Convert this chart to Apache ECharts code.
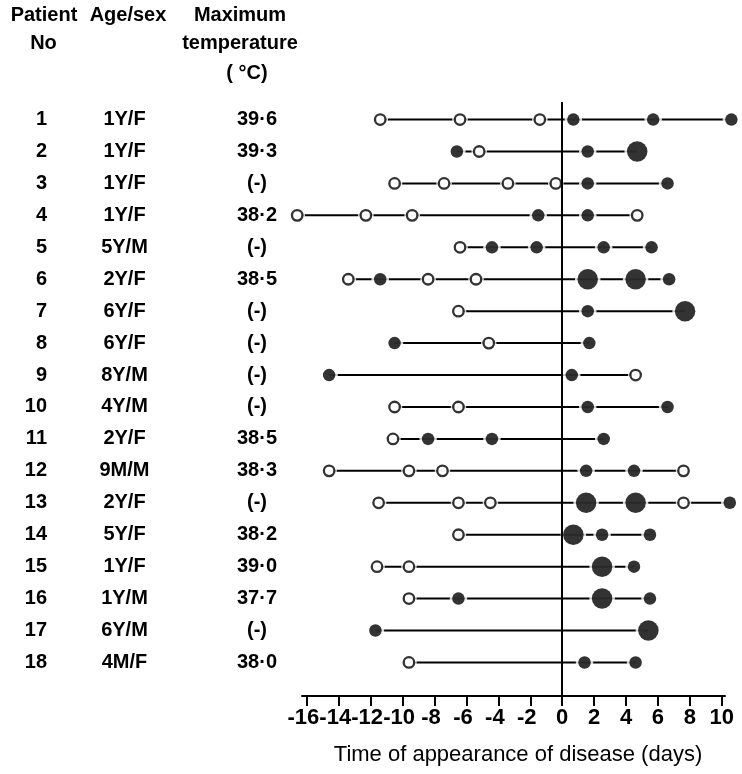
<!DOCTYPE html>
<html>
<head>
<meta charset="utf-8">
<script src="https://cdn.jsdelivr.net/npm/echarts@6/dist/echarts.min.js"></script>
<style>html,body{margin:0;padding:0;background:#fff;}#c{width:742px;height:774px;}</style>
</head>
<body>
<div id="c"></div>
<script>
// ---- data ----
const patientNo = ['1','2','3','4','5','6','7','8','9','10','11','12','13','14','15','16','17','18'];
const ageSex = ['1Y/F','1Y/F','1Y/F','1Y/F','5Y/M','2Y/F','6Y/F','6Y/F','8Y/M','4Y/M','2Y/F','9M/M','2Y/F','5Y/F','1Y/F','1Y/M','6Y/M','4M/F'];
const maxTemp = ['39·6','39·3','(-)','38·2','(-)','38·5','(-)','(-)','(-)','(-)','38·5','38·3','(-)','38·2','39·0','37·7','(-)','38·0'];
// days of appearance per patient (row order)
const openDays = [
  [-11.4,-6.4,-1.4], [-5.2], [-10.5,-7.4,-3.4,-0.4], [-16.6,-12.3,-9.4,4.7], [-6.4],
  [-13.4,-8.4,-5.4], [-6.5], [-4.6], [4.6], [-10.5,-6.5],
  [-10.6], [-14.6,-9.6,-7.5,7.6], [-11.5,-6.5,-4.5,7.6], [-6.5], [-11.6,-9.6],
  [-9.6], [], [-9.6]
];
const filledDays = [
  [0.7,5.7,10.6], [-6.6,1.6], [1.6,6.6], [-1.5,1.6], [-4.4,-1.6,2.6,5.6],
  [-11.4,6.7], [1.6], [-10.5,1.7], [-14.6,0.6], [1.6,6.6],
  [-8.4,-4.4,2.6], [1.5,4.5], [10.5], [2.5,5.5], [4.5],
  [-6.5,5.5], [-11.7], [1.4,4.6]
];
const largeDays = [
  [], [4.7], [], [], [],
  [1.6,4.6], [7.7], [], [], [],
  [], [], [1.5,4.6], [0.7], [2.5],
  [2.5], [5.4], []
];
const xTickValues = [-16,-14,-12,-10,-8,-6,-4,-2,0,2,4,6,8,10];
const xAxisTitle = 'Time of appearance of disease (days)';

// ---- build ----
const FONT = "'Liberation Sans', Arial, Helvetica, sans-serif";
const rowValues = patientNo.map((_, i) => i + 1);
function pts(list) {
  const out = [];
  list.forEach((arr, i) => arr.forEach(v => out.push([v, i + 1])));
  return out;
}
const openPts = pts(openDays), filledPts = pts(filledDays), largePts = pts(largeDays);

const SZ_OPEN = 10.5, SZ_FILLED = 12.5, SZ_LARGE = 20.5, HALO = 5;

const rowLines = rowValues.map((r, i) => {
  const all = openDays[i].concat(filledDays[i], largeDays[i]);
  return {
    type: 'line', data: [[Math.min(...all), r], [Math.max(...all), r]],
    symbol: 'none', clip: false, silent: true, z: 1,
    lineStyle: { color: '#000', width: 2 }
  };
});

function halo(data, size) {
  return { type: 'scatter', data, symbol: 'circle', symbolSize: size + HALO, clip: false, silent: true, z: 2,
    itemStyle: { color: '#fff' } };
}

const cols = [patientNo, ageSex, maxTemp];
const offsets = [255, 177.5, 45];
const aligns = ['right', 'center', 'center'];

const chart = echarts.init(document.getElementById('c'), null, { renderer: 'canvas' });
chart.setOption({
  animation: false,
  backgroundColor: '#fff',
  grid: { left: 302, right: 17, top: 102, bottom: 78, containLabel: false },
  xAxis: {
    type: 'value', min: -16.3, max: 10.2,
    axisLine: { onZero: false, lineStyle: { color: '#000', width: 2 } },
    axisTick: { customValues: xTickValues, length: 10, lineStyle: { color: '#000', width: 2 } },
    splitLine: { show: false },
    axisLabel: {
      customValues: xTickValues, margin: 11, color: '#000',
      fontSize: 22, fontWeight: 'bold', fontFamily: FONT,
      formatter: v => v < 0 ? '{n|' + v + '}' : '{p|' + v + '}',
      rich: {
        n: { fontSize: 22, fontWeight: 'bold', fontFamily: FONT, color: '#000', padding: [0, 7, 0, 0] },
        p: { fontSize: 22, fontWeight: 'bold', fontFamily: FONT, color: '#000' }
      }
    },
    name: xAxisTitle, nameLocation: 'middle', nameGap: 48,
    nameTextStyle: { fontSize: 22, fontFamily: FONT, color: '#000', padding: [0, 0, 0, 9] }
  },
  yAxis: [0, 1, 2].map(k => ({
    type: 'value', min: 0.45, max: 19.05, inverse: true, position: 'left', offset: offsets[k],
    axisLine: { show: false, onZero: false }, axisTick: { show: false }, splitLine: { show: false },
    axisLabel: {
      customValues: rowValues, margin: 0, align: aligns[k], padding: [0, 0, 6, 0],
      formatter: v => cols[k][v - 1] || '',
      fontSize: 20, fontWeight: 'bold', fontFamily: FONT, color: '#000'
    }
  })),
  graphic: [
    ['Patient', 44, 15], ['No', 43.5, 43], ['Age/sex', 128, 15],
    ['Maximum', 240, 15], ['temperature', 240, 43], ['( °C)', 247, 73]
  ].map(([t, x, y]) => ({
    type: 'text', x, y,
    style: { text: t, fill: '#000', font: 'bold 20px ' + FONT, align: 'center', verticalAlign: 'middle' }
  })),
  series: [
    ...rowLines,
    halo(openPts, SZ_OPEN), halo(filledPts, SZ_FILLED), halo(largePts, SZ_LARGE),
    {
      type: 'scatter', data: [], z: 3, silent: true,
      markLine: {
        silent: true, symbol: ['none', 'none'], label: { show: false },
        lineStyle: { color: '#000', width: 2, type: 'solid' },
        data: [{ xAxis: 0 }]
      }
    },
    { type: 'scatter', data: openPts, symbol: 'circle', symbolSize: SZ_OPEN, clip: false, z: 4,
      itemStyle: { color: '#fff', borderColor: '#000', borderWidth: 2.3 } },
    { type: 'scatter', data: filledPts, symbol: 'circle', symbolSize: SZ_FILLED, clip: false, z: 4,
      itemStyle: { color: '#000' } },
    { type: 'scatter', data: largePts, symbol: 'circle', symbolSize: SZ_LARGE, clip: false, z: 4,
      itemStyle: { color: '#000' } }
  ]
});
</script>
</body>
</html>
